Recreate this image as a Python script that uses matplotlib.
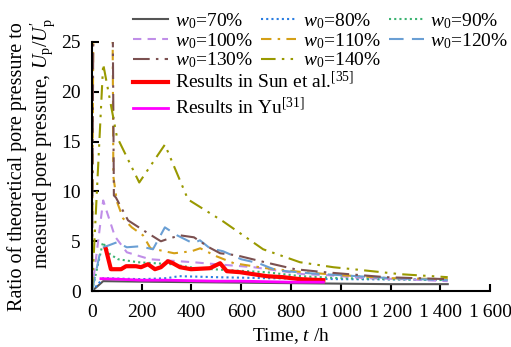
import matplotlib
matplotlib.use("Agg")
import matplotlib.pyplot as plt
from matplotlib.ticker import FuncFormatter

plt.rcParams['font.family'] = ['Liberation Serif', 'DejaVu Serif']
plt.rcParams['mathtext.fontset'] = 'custom'
plt.rcParams['mathtext.rm'] = 'Liberation Serif'
plt.rcParams['mathtext.it'] = 'Liberation Serif:italic'
plt.rcParams['font.size'] = 14

# ---- data ----
t70 = [0, 45, 200, 400, 600, 800, 1000, 1200, 1430]
v70 = [0, 1.0, 0.95, 0.9, 0.85, 0.8, 0.75, 0.7, 0.7]

t80 = [0, 45, 200, 300, 350, 500, 700, 1000, 1430]
v80 = [0, 1.3, 1.2, 1.3, 1.5, 1.4, 1.3, 1.2, 1.15]

t90 = [0, 44, 72, 105, 185, 320, 420, 550, 700, 840, 1000, 1200, 1430]
v90 = [0, 4.9, 3.7, 3.2, 2.9, 2.7, 2.3, 2.1, 1.9, 1.5, 1.3, 1.2, 1.1]

t100 = [0, 45, 92, 140, 233, 407, 500, 650, 850, 950, 1100, 1250, 1430]
v100 = [0, 9.1, 5.5, 3.9, 3.2, 2.9, 2.7, 2.4, 1.7, 1.6, 1.3, 1.2, 1.0]

t110 = [0, 8, 80, 86, 100, 125, 160, 205, 235, 330, 400, 435, 500, 570, 700, 850, 1000, 1200, 1430]
v110 = [0, 40, 40, 11.5, 9.0, 7.3, 6.4, 5.6, 4.3, 3.8, 4.0, 4.3, 3.5, 2.8, 2.3, 1.9, 1.6, 1.3, 1.2]

t120 = [0, 36, 100, 140, 193, 245, 293, 342, 406, 434, 474, 527, 600, 670, 740, 870, 1000, 1200, 1430]
v120 = [0, 4.3, 4.9, 4.4, 4.5, 4.2, 6.4, 5.6, 4.8, 5.1, 4.3, 4.0, 3.2, 2.8, 2.1, 1.8, 1.6, 1.3, 1.1]

t130 = [0, 8, 80, 88, 96, 145, 213, 277, 300, 354, 410, 470, 515, 580, 695, 816, 935, 1180, 1430]
v130 = [0, 40, 40, 9.6, 9.4, 7.1, 6.0, 5.0, 5.2, 5.6, 5.4, 4.4, 3.8, 3.6, 2.9, 2.2, 1.9, 1.4, 1.2]

t140 = [0, 45, 100, 190, 293, 386, 527, 688, 836, 970, 1050, 1240, 1430]
v140 = [0, 22.8, 15.5, 10.9, 14.7, 9.2, 7.0, 4.2, 2.9, 2.4, 2.2, 1.7, 1.4]

t_sun = [56, 76, 117, 137, 177, 197, 225, 253, 277, 305, 325, 354, 398, 474, 515, 542, 595, 648, 703, 768, 836, 930]
v_sun = [4.2, 2.2, 2.2, 2.5, 2.5, 2.4, 2.7, 2.2, 2.4, 3.0, 2.8, 2.4, 2.2, 2.3, 2.8, 2.0, 1.9, 1.7, 1.5, 1.4, 1.2, 1.1]

t_yu = [36, 100, 200, 300, 400, 500, 600, 700, 800, 930]
v_yu = [1.25, 1.2, 1.1, 1.1, 1.05, 1.0, 1.0, 0.95, 0.9, 0.9]

xticks = [0, 200, 400, 600, 800, 1000, 1200, 1400, 1600]
yticks = [0, 5, 10, 15, 20, 25]

# ---- figure ----
W, H = 511, 347
fig = plt.figure(figsize=(W / 100, H / 100), dpi=100)
ax = fig.add_axes([0.180, 0.161, 0.779, 0.718])

lw = 1.5
h70, = ax.plot(t70, v70, color='#555555', lw=lw, ls='-')
h80, = ax.plot(t80, v80, color='#2a7de1', lw=lw, ls=(0, (1, 1.5)))
h90, = ax.plot(t90, v90, color='#3cb371', lw=lw, ls=(0, (1, 1.5)))
h100, = ax.plot(t100, v100, color='#c08ee8', lw=lw, ls=(0, (4, 3)))
h110, = ax.plot(t110, v110, color='#d4a017', lw=lw, ls=(0, (5, 3, 1.2, 3)))
h120, = ax.plot(t120, v120, color='#6a9fd4', lw=lw, ls=(0, (7, 4)))
h130, = ax.plot(t130, v130, color='#7b5050', lw=lw, ls=(0, (8, 3, 1.2, 3)))
h140, = ax.plot(t140, v140, color='#999900', lw=lw, ls=(0, (7, 3, 1.2, 3, 1.2, 3)))
hsun, = ax.plot(t_sun, v_sun, color='#ff0000', lw=3)
hyu, = ax.plot(t_yu, v_yu, color='#ff00ff', lw=2)

ax.set_xlim(0, 1600)
ax.set_ylim(0, 25)
ax.set_xticks(xticks)
ax.set_yticks(yticks)
ax.xaxis.set_major_formatter(FuncFormatter(lambda x, p: f"{int(x):,}".replace(",", "\u2009")))
ax.spines['top'].set_visible(False)
ax.spines['right'].set_visible(False)
for s in ['left', 'bottom']:
    ax.spines[s].set_linewidth(1.5)
ax.tick_params(direction='in', length=5, width=1.5, labelsize=14)
ax.tick_params(axis='x', pad=9)
ax.tick_params(axis='y', pad=8)

ax.set_xlabel('Time, $t$ /h', fontsize=14, labelpad=4)

# two-line y label, placed as two texts
fig.text(17 / W, 1 - 167 / H, 'Ratio of theoretical pore pressure to', rotation=90,
         ha='center', va='center', fontsize=14.5)
fig.text(43 / W, 1 - 144 / H, "measured pore pressure, $U_\\mathrm{p}/U^{\\prime}_\\mathrm{p}$",
         rotation=90, ha='center', va='center', fontsize=14.5)

labels = ['$w_0$=70%', '$w_0$=100%', '$w_0$=130%', '$w_0$=80%', '$w_0$=110%',
          '$w_0$=140%', '$w_0$=90%', '$w_0$=120%']
handles = [h70, h100, h130, h80, h110, h140, h90, h120]
leg1 = fig.legend(handles, labels, ncol=3, loc='upper left', bbox_to_anchor=(0.261, 0.968),
                  frameon=False, fontsize=14, handlelength=1.8, handletextpad=0.35,
                  columnspacing=0.4, labelspacing=0.0, borderpad=0, borderaxespad=0)
leg2 = fig.legend([hsun, hyu], ['Results in Sun et al.$^{[35]}$', 'Results in Yu$^{[31]}$'],
                  loc='upper left', bbox_to_anchor=(0.261, 0.795), frameon=False, fontsize=14,
                  handlelength=1.8, handletextpad=0.35, labelspacing=0.25, borderpad=0,
                  borderaxespad=0)

fig.savefig('out.png', dpi=100)
